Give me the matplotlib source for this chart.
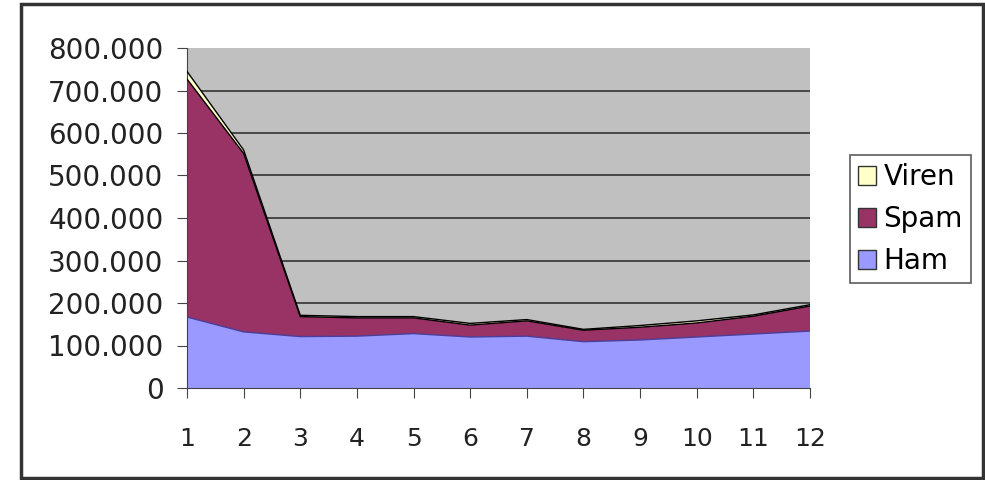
import numpy as np
import matplotlib.pyplot as plt
from matplotlib.patches import Rectangle
from matplotlib.ticker import FuncFormatter

plt.rcParams['font.family'] = ['DejaVu Sans']

# data
months = [1, 2, 3, 4, 5, 6, 7, 8, 9, 10, 11, 12]
ham = [167000, 132000, 121000, 122000, 128000, 120000, 122000, 109000, 113000, 120000, 127000, 134000]
spam = [560000, 420000, 47000, 43000, 37000, 28000, 36000, 27000, 30000, 33000, 42000, 59000]
viren = [18000, 8000, 3000, 3000, 3000, 4000, 3000, 2000, 4000, 5000, 3000, 3000]
labels = ["Ham", "Spam", "Viren"]
colors = ["#9999ff", "#993366", "#ffffcc"]
edges = ["#4b3d99", "black", "black"]

fig = plt.figure(figsize=(9.85, 4.8), dpi=100)
ax = fig.add_axes([187 / 985, 92 / 480, 623 / 985, 340 / 480])
ax.set_facecolor("#c0c0c0")

polys = ax.stackplot(months, ham, spam, viren, colors=colors, labels=labels,
                     edgecolor="none", zorder=2)
cum = np.cumsum([ham, spam, viren], axis=0)
for k in range(3):
    ax.plot(months, cum[k], color=edges[k], lw=1.0, zorder=3)

ax.set_xlim(1, 12)
ax.set_ylim(0, 800000)
ax.set_xticks(months)
ax.set_yticks(np.arange(0, 800001, 100000))
ax.yaxis.set_major_formatter(FuncFormatter(
    lambda v, p: "0" if v == 0 else f"{int(v):,}".replace(",", ".")))
for y in range(100000, 800000, 100000):
    ax.axhline(y, color="#333333", lw=1.2, zorder=1)

for s in ["top", "right"]:
    ax.spines[s].set_visible(False)
for s in ["left", "bottom"]:
    ax.spines[s].set_color("#444444")
ax.tick_params(axis="both", direction="out", length=7, color="#444444",
               labelcolor="#222222")
ax.tick_params(axis="x", pad=21, labelsize=18)
ax.tick_params(axis="y", pad=10, labelsize=20)

# legend: reverse order, Viren on top
h, l = ax.get_legend_handles_labels()
leg = fig.legend(h[::-1], l[::-1], loc="upper left", bbox_to_anchor=(850 / 985, 1 - 155 / 480),
                 fontsize=20, frameon=True, fancybox=False, edgecolor="#333333",
                 handlelength=0.65, handleheight=0.65, handletextpad=0.25,
                 labelspacing=0.5, borderpad=0.3, borderaxespad=0)
leg.get_frame().set_linewidth(1.2)
for p in leg.get_patches():
    p.set_edgecolor("#333333")
    p.set_linewidth(1)

# outer border
fig.patches.append(Rectangle((21 / 985, 2 / 480), 962 / 985, 474 / 480,
                             transform=fig.transFigure, fill=False,
                             edgecolor="#333333", lw=2.5))

fig.savefig("out.png", dpi=100)
